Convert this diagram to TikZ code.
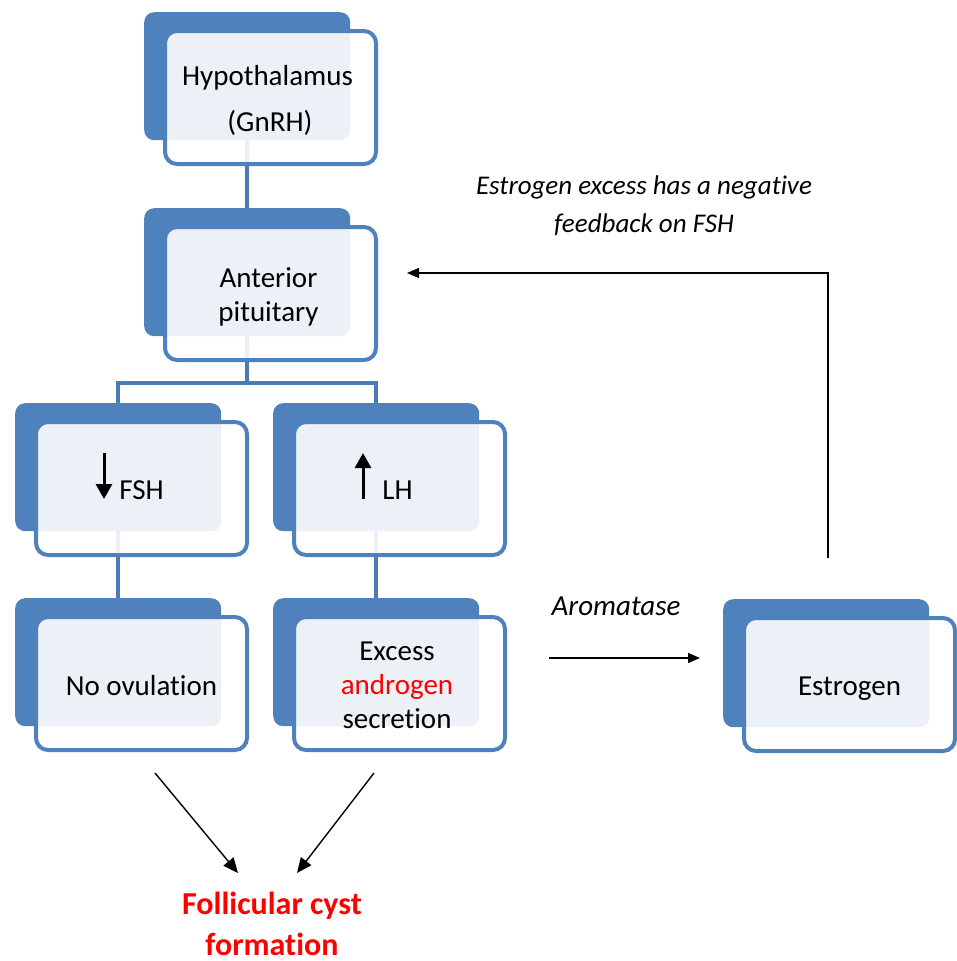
\documentclass[tikz,border=0pt]{standalone}
\usepackage{fontspec}
\setmainfont{Carlito}[Ligatures={NoCommon}]
\usetikzlibrary{arrows.meta}
\definecolor{boxblue}{HTML}{4F81BD}
\definecolor{connblue}{HTML}{4A7BB5}
\definecolor{txtred}{HTML}{FF0000}
\tikzset{
  backbox/.style={fill=boxblue, draw=none, rounded corners=10pt, minimum width=206pt, minimum height=128pt, anchor=north west, inner sep=0pt},
  frontbox/.style={fill=white, fill opacity=0.89, draw=boxblue, draw opacity=1, line width=4pt, rounded corners=12pt, minimum width=211pt, minimum height=133pt, anchor=center, inner sep=0pt},
  boxtext/.style={align=center, inner sep=0pt, font=\fontsize{29}{34}\selectfont},
  conn/.style={draw=connblue, line width=4pt},
  arr/.style={draw=black, line width=1.4pt, -{Triangle[length=15pt,width=13pt]}},
  farr/.style={draw=black, line width=1.4pt, -{Triangle[length=12pt,width=10pt]}},
  updown/.style={draw=black, line width=3pt, -{Triangle[length=15pt,width=16pt]}},
  lbl/.style={font=\fontsize{29}{38}\selectfont\itshape, align=center, inner sep=0pt},
}
\begin{document}
\begin{tikzpicture}[x=1pt,y=-1pt]
\useasboundingbox (0,0) rectangle (956,961);
% back boxes
\node[backbox] (hypB) at (144,12) {};
\node[backbox] (antB) at (144,208) {};
\node[backbox] (fshB) at (15,403) {};
\node[backbox] (lhB) at (273,403) {};
\node[backbox] (noB) at (15,598) {};
\node[backbox] (excB) at (273,598) {};
\node[backbox] (estB) at (723,599) {};
% connectors
\draw[conn] (hypB.south) -- (antB.north);
\draw[conn] (antB.south) -- ++(0,47) coordinate (br);
\draw[conn] (fshB.north) |- (br) -| (lhB.north);
\draw[conn] (fshB.south) -- (noB.north);
\draw[conn] (lhB.south) -- (excB.north);
% front boxes
\node[frontbox] (hypF) at (270.5,97.5) {};
\node[frontbox] (antF) at (270.5,293.5) {};
\node[frontbox] (fshF) at (141.5,488.5) {};
\node[frontbox] (lhF) at (399.5,488.5) {};
\node[frontbox] (noF) at (141.5,683.5) {};
\node[frontbox] (excF) at (399.5,683.5) {};
\node[frontbox] (estF) at (849.5,684.5) {};
% box texts
\node[boxtext] (hypT) at ([xshift=-3pt,yshift=-3pt]hypF.center) {Hypothalamus\\[12pt]\,(GnRH)};
\node[boxtext] (antT) at ([xshift=-2pt,yshift=-3pt]antF.center) {Anterior\\pituitary};
\node[boxtext] (fshT) at ([yshift=-2pt]fshF.center) {FSH};
\node[boxtext] (lhT) at ([xshift=-2pt,yshift=-2pt]lhF.center) {LH};
\node[boxtext] (noT) at ([yshift=-2pt]noF.center) {No ovulation};
\node[boxtext] (excT) at ([xshift=-2.5pt,yshift=-2pt]excF.center) {Excess\\\textcolor{txtred}{androgen}\\secretion};
\node[boxtext] (estT) at ([yshift=-4pt]estF.center) {Estrogen};
% small arrows
\coordinate (fshA1) at (104,453); \coordinate (fshA2) at (104,499);
\draw[updown] (fshA1) -- (fshA2);
\coordinate (lhA1) at (363,499); \coordinate (lhA2) at (363,453);
\draw[updown] (lhA1) -- (lhA2);
% aromatase arrow
\coordinate (aroS) at (549,658); \coordinate (aroE) at (700,658);
\draw[farr] (aroS) -- (aroE);
\node[lbl] (aro) at (616,606) {Aromatase};
% feedback arrow
\coordinate (fbS) at (828,558); \coordinate (fbE) at (407,273);
\draw[farr] (fbS) |- (fbE);
\node[lbl, font=\fontsize{27}{38}\selectfont\itshape] (fb) at (644,206) {Estrogen excess has a negative\\feedback on FSH};
% bottom arrows
\coordinate (b1S) at (155,773); \coordinate (b1E) at (238,873);
\coordinate (b2S) at (374,773); \coordinate (b2E) at (297,873);
\draw[arr] (b1S) -- (b1E);
\draw[arr] (b2S) -- (b2E);
\node[font=\fontsize{32}{41}\selectfont\bfseries, text=txtred, align=center, inner sep=0pt] (cyst) at (272,924) {Follicular cyst\\formation};
\end{tikzpicture}
\end{document}
